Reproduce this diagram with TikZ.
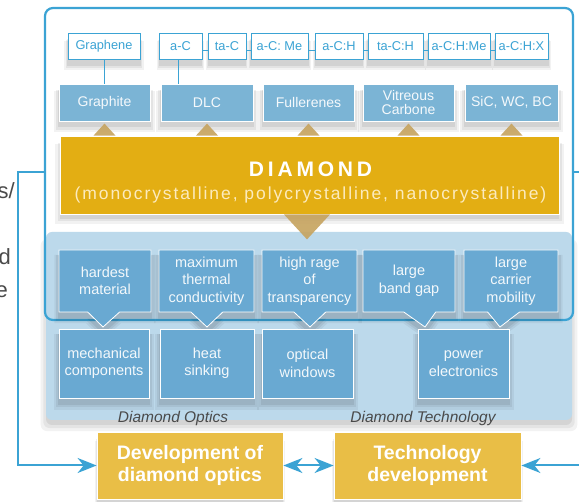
\documentclass[tikz,border=0pt]{standalone}
\usepackage{fontspec}
\setmainfont{Liberation Sans}
\usetikzlibrary{arrows.meta,shapes.callouts,shadows}

\definecolor{frameblue}{HTML}{3BA3D4}
\definecolor{typeblue}{HTML}{7BB4D5}
\definecolor{propblue}{HTML}{69A9D2}
\definecolor{panelblue}{HTML}{BCD9EB}
\definecolor{diamondgold}{HTML}{E3AE13}
\definecolor{devgold}{HTML}{E9BE46}
\definecolor{tipbrown}{HTML}{C6A35E}
\definecolor{subcream}{HTML}{FCEBBE}
\definecolor{labelgrey}{HTML}{4A4A4A}

\begin{document}
\begin{tikzpicture}[x=1pt,y=-1pt,
  every node/.style={inner sep=0pt, align=center},
  % soft shadow built from stacked translucent copies
  soft/.style={
    general shadow={shadow scale=1.10, shadow yshift=-8pt, fill=black, opacity=0.05},
    general shadow={shadow scale=1.06, shadow yshift=-7pt, fill=black, opacity=0.06},
    general shadow={shadow scale=1.02, shadow yshift=-6pt, fill=black, opacity=0.07}},
  widesoft/.style={
    general shadow={shadow scale=1.02, shadow yshift=-9pt, fill=black, opacity=0.05},
    general shadow={shadow scale=1.01, shadow yshift=-7pt, fill=black, opacity=0.06},
    general shadow={shadow scale=1.00, shadow yshift=-5pt, fill=black, opacity=0.07}},
  variant/.style={draw=frameblue, line width=0.9pt, fill=white, text=frameblue,
      minimum height=26pt, font=\fontsize{12.8}{14}\selectfont, soft},
  family/.style={draw=white, line width=0.8pt, fill=typeblue, text=white!92!typeblue,
      minimum height=37pt, font=\fontsize{14}{13.5}\selectfont, soft},
  property/.style={rectangle callout, draw=white, line width=0.8pt, fill=propblue,
      text=white!92!propblue, minimum height=62pt, callout pointer width=32pt,
      font=\fontsize{14.5}{17.5}\selectfont, soft},
  use/.style={draw=white, line width=0.8pt, fill=propblue, text=white!92!propblue,
      minimum height=69pt, font=\fontsize{14.5}{17.5}\selectfont, soft},
  goal/.style={fill=devgold, draw=white, line width=0.8pt, text=white,
      minimum height=67pt, font=\bfseries\fontsize{19.5}{21.5}\selectfont, widesoft},
  section/.style={font=\itshape\fontsize{15.5}{16}\selectfont, text=labelgrey},
  margintext/.style={anchor=base east, font=\fontsize{22}{22}\selectfont, text=labelgrey},
  flow/.style={draw=frameblue, line width=2pt},
  link/.style={draw=frameblue, line width=0.9pt},
  >={Stealth[length=19pt, width=15pt, inset=6pt]}
]
\useasboundingbox (0,0) rectangle (579,502);
\clip (0,0) rectangle (579,502);

% text running in from the left margin
\node[margintext] (frag1) at (15,199) {s/};
\node[margintext] (frag2) at (11,265) {d};
\node[margintext] (frag3) at (8,298) {e};

% white frame and the light panel of properties and uses
\fill[white, rounded corners=8pt] (45,8) rectangle (573,320);
\node[fill=panelblue, rounded corners=6pt, minimum width=526pt, minimum height=188pt,
      widesoft] (panel) at (309,326) {};
\node[draw=frameblue, line width=2.2pt, rounded corners=8pt,
      minimum width=528pt, minimum height=312pt] (frame) at (309,164) {};

% carbon film variants
\node[variant, minimum width=72pt] (graphene) at (104,46.5) {Graphene};
\node[variant, minimum width=43pt] (aC)     at (180.5,46.5) {a-C};
\node[variant, minimum width=38pt] (taC)    at (227,46.5) {ta-C};
\node[variant, minimum width=57pt] (aCMe)   at (279.5,46.5) {a-C: Me};
\node[variant, minimum width=48pt] (aCH)    at (339,46.5) {a-C:H};
\node[variant, minimum width=55pt] (taCH)   at (395.5,46.5) {ta-C:H};
\node[variant, minimum width=62pt] (aCHMe)  at (459,46.5) {a-C:H:Me};
\node[variant, minimum width=53pt] (aCHX)   at (521.5,46.5) {a-C:H:X};
\foreach \a/\b in {aC/taC, taC/aCMe, aCMe/aCH, aCH/taCH, taCH/aCHMe, aCHMe/aCHX}
  \draw[link] ([yshift=-3.5pt]\a.east) -- ([yshift=-3.5pt]\b.west);

% carbon families
\node[family, minimum width=91pt] (graphite)   at (104.5,102.5) {Graphite};
\node[family, minimum width=92pt] (dlc)        at (207,102.5) {DLC};
\node[family, minimum width=91pt] (fullerenes) at (308.5,102.5) {Fullerenes};
\node[family, minimum width=91pt] (vitreous)   at (408.5,102.5) {Vitreous\\Carbone};
\node[family, minimum width=93pt] (sic)        at (511.5,102.5) {SiC, WC, BC};
\draw[link] (graphene.south) -- (graphene.south |- graphite.north);
\draw[link] ([xshift=-2.5pt]aC.south) -- ([xshift=-2.5pt]aC.south |- dlc.north);

% diamond
\node[fill=diamondgold, draw=white, line width=0.8pt, minimum width=499pt,
      minimum height=78pt, widesoft] (diamond) at (309.5,175) {};
\node[text=white, font=\bfseries\fontsize{21}{21}\selectfont\addfontfeature{LetterSpace=18}]
      (diamondname) at (310.5,169.5) {DIAMOND};
\node[text=subcream, font=\fontsize{17.5}{18}\selectfont\addfontfeature{LetterSpace=11}]
      (diamondkinds) at (310.5,195) {(monocrystalline, polycrystalline, nanocrystalline)};
\foreach \b in {graphite, dlc, fullerenes, vitreous, sic}
  \fill[tipbrown, opacity=0.9] ([xshift=-11pt]\b.south |- diamond.north)
      -- ([yshift=12pt]\b.south |- diamond.north)
      -- ([xshift=11pt]\b.south |- diamond.north) -- cycle;
\fill[tipbrown, opacity=0.9] ([xshift=-25.5pt]diamond.south) -- ([xshift=-2.5pt, yshift=-25pt]diamond.south)
      -- ([xshift=20.5pt]diamond.south) -- cycle;

% properties
\node[property, minimum width=92pt, callout absolute pointer={(103,327)}] (hardest)  at (105,281) {hardest\\material};
\node[property, minimum width=95pt, callout absolute pointer={(207,327)}] (thermal)  at (206.5,281) {maximum\\thermal\\conductivity};
\node[property, minimum width=95pt, callout absolute pointer={(310,327)}] (transp)   at (309.5,281) {high rage\\of\\transparency};
\node[property, minimum width=92pt, callout absolute pointer={(425,327)}] (bandgap)  at (409,281) {large\\band gap};
\node[property, minimum width=94pt, callout absolute pointer={(500,327)}] (mobility) at (511,281) {large\\carrier\\mobility};

% applications
\node[use, minimum width=90pt] (mech)    at (104,363.5) {mechanical\\components};
\node[use, minimum width=94pt] (heat)    at (207,363.5) {heat\\sinking};
\node[use, minimum width=91pt] (optical) at (307.5,363.5) {optical\\windows};
\node[use, minimum width=91pt] (power)   at (463.5,363.5) {power\\electronics};

\node[section] (opticslabel) at (173,418) {Diamond Optics};
\node[section] (techlabel)   at (423,418) {Diamond Technology};

% development goals
\node[goal, minimum width=186pt] (devoptics) at (190,465.5) {Development of\\diamond optics};
\node[goal, minimum width=187pt] (techdev)   at (427.5,465.5) {Technology\\development};

% feedback connectors
\draw[flow, ->] ([yshift=-8pt]frame.west) -- ++(-26,0) |- (devoptics.west);
\draw[flow, ->] ([yshift=-8pt]frame.east) -- ++(20,0) |- (techdev.east);
\draw[flow, <->] (devoptics.east) -- (techdev.west);
\end{tikzpicture}
\end{document}
